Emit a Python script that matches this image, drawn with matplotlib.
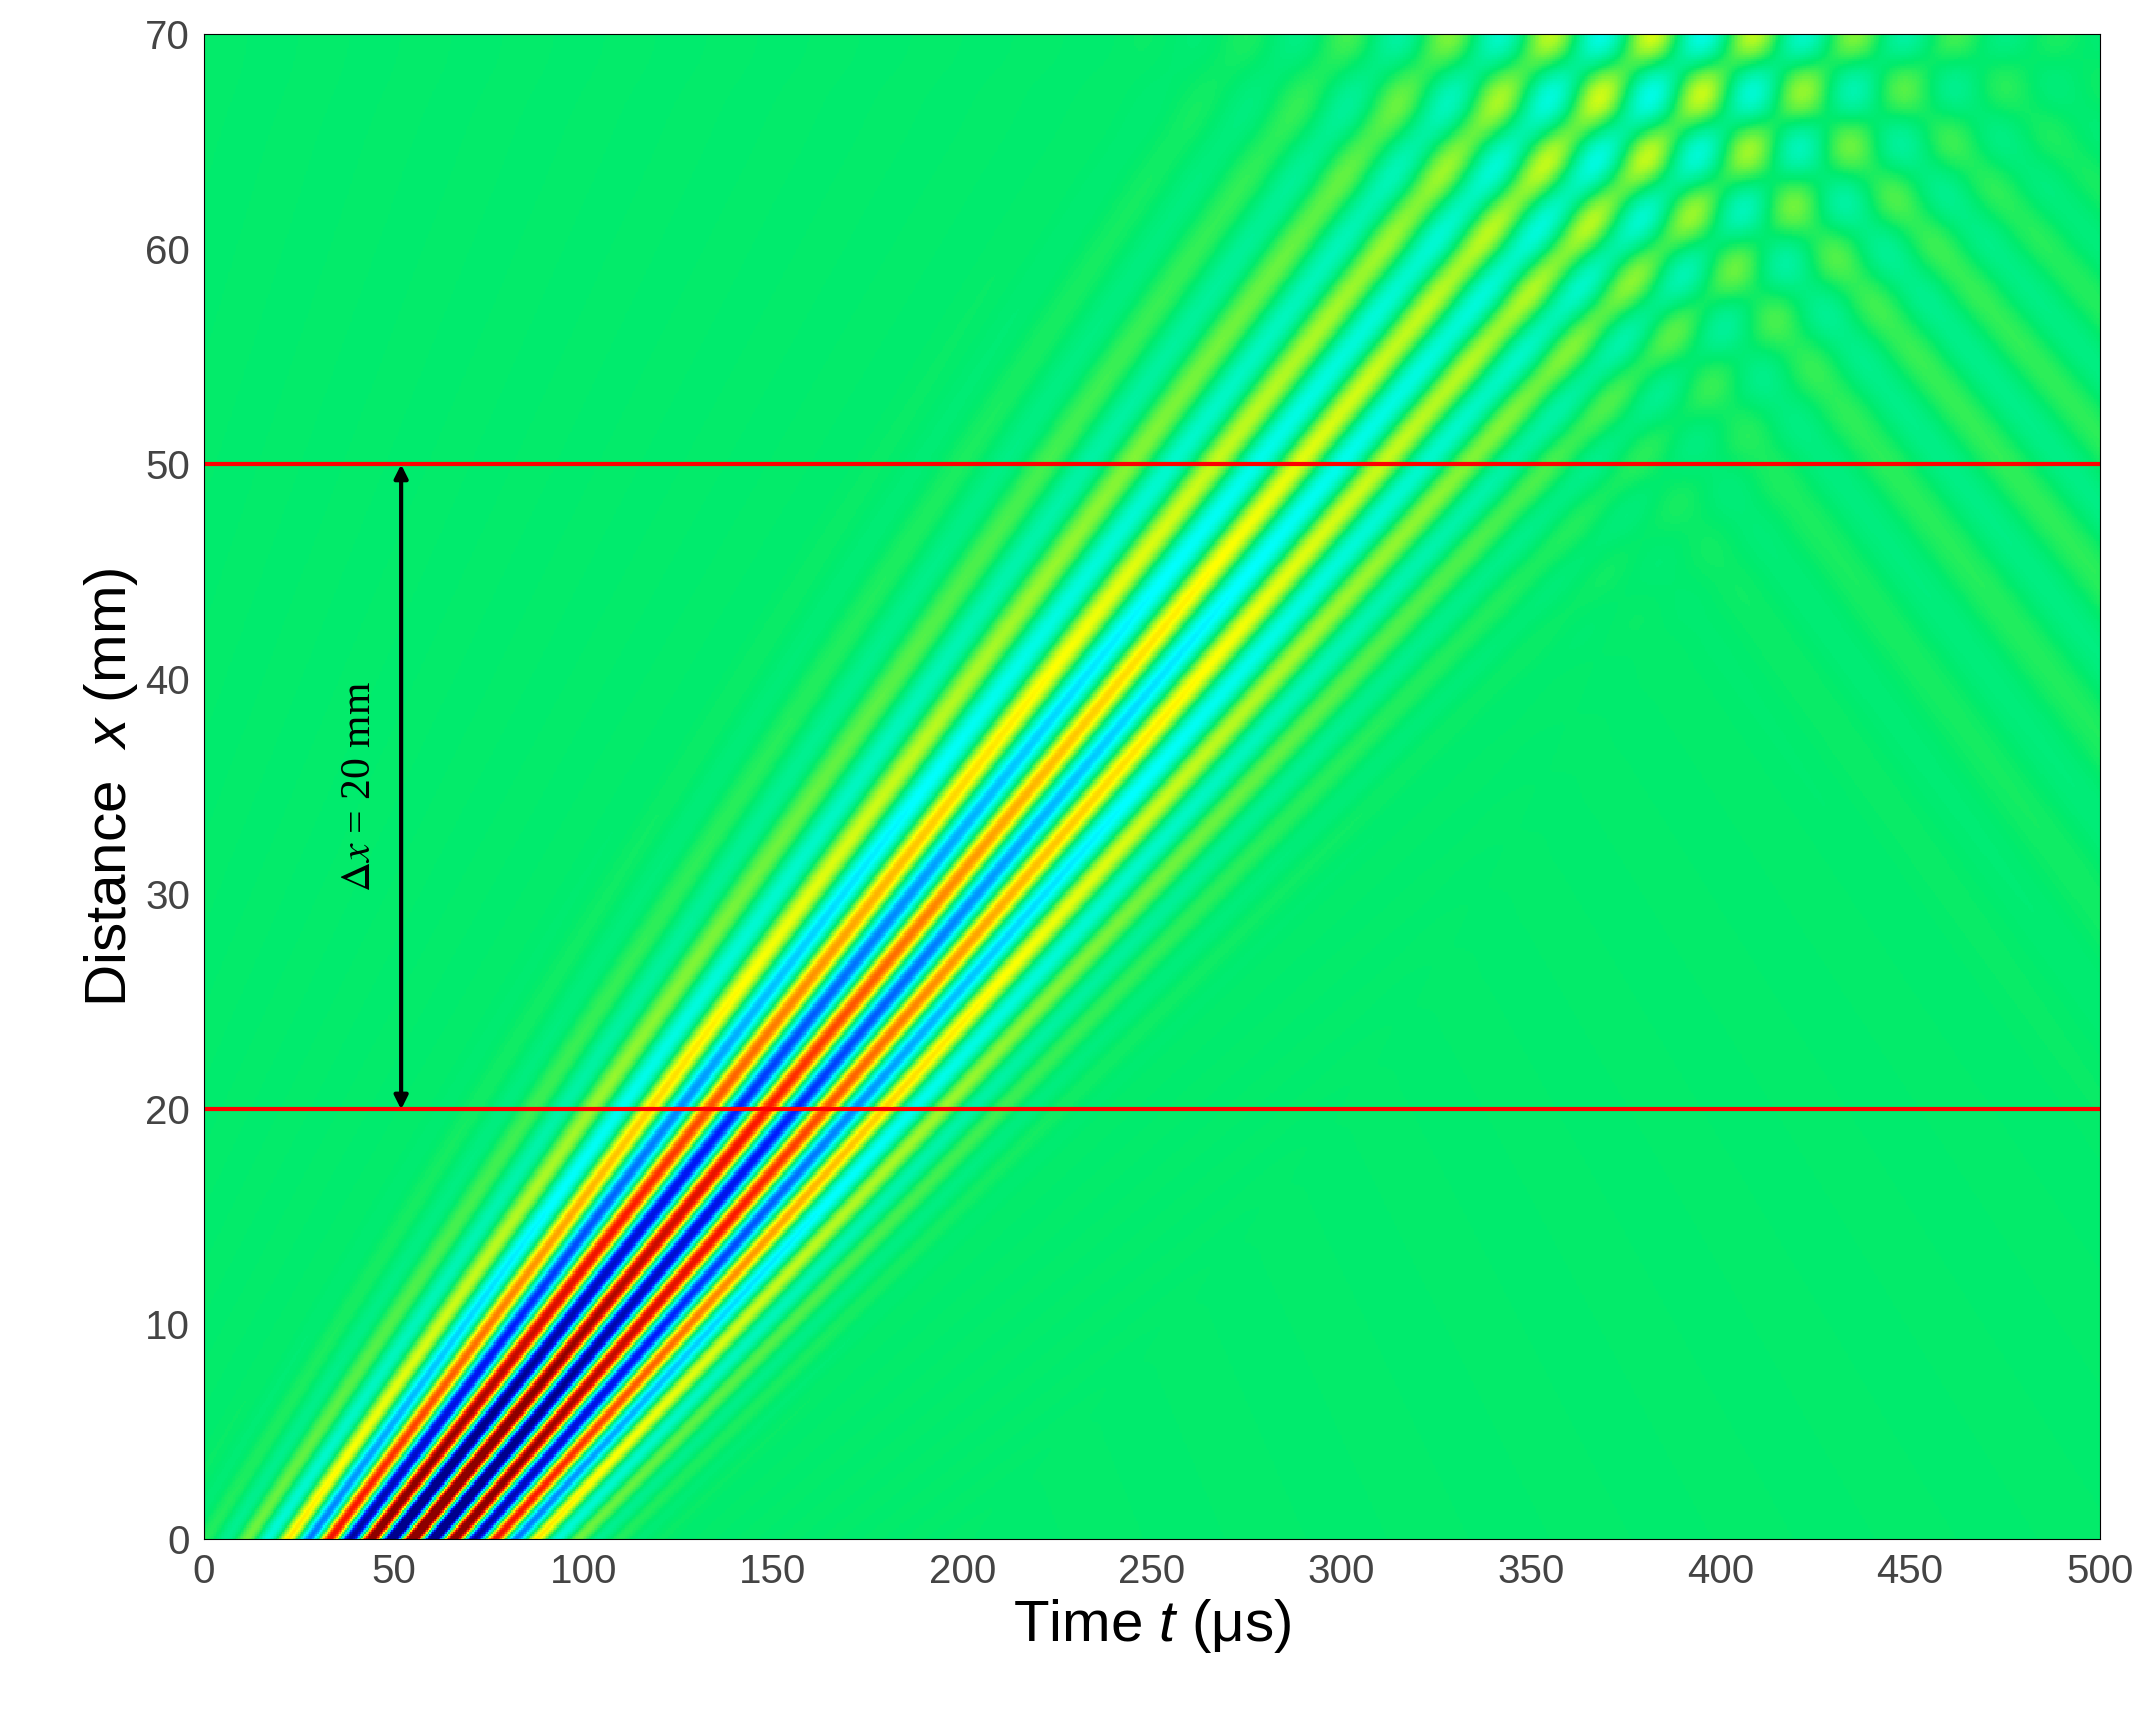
import numpy as np
import matplotlib
matplotlib.use('Agg')
import matplotlib.pyplot as plt
from matplotlib.colors import LinearSegmentedColormap

plt.rcParams['font.family'] = ['Liberation Sans', 'DejaVu Sans']
plt.rcParams['mathtext.fontset'] = 'custom'
plt.rcParams['mathtext.it'] = 'Liberation Sans:italic'
plt.rcParams['mathtext.rm'] = 'Liberation Sans'

# wave packet parameters
t_centre = 55.0      # us, packet centre at x = 0
slowness = 4.67      # us/mm, centre group slowness
fan = 0.0207         # change of slowness per us of launch time
period = 11.0        # us
env_width = 21.0     # us
decay = 45.0         # mm
x_end = 70.0         # mm, reflecting edge
refl = 0.6
line_x = [20, 50]
x_ticks = [0, 10, 20, 30, 40, 50, 60, 70]
t_ticks = [0, 50, 100, 150, 200, 250, 300, 350, 400, 450, 500]

t = np.linspace(0, 500, 1200)
x = np.linspace(0, 70, 700)
T, X = np.meshgrid(t, x)


def packet(T, X):
    t0 = (T - X * slowness + t_centre * fan * X) / (1 + fan * X)
    amp = 1.3 * np.exp(-X / decay) / np.sqrt(1 + fan * X)
    env = np.exp(-((t0 - t_centre) / env_width) ** 2 / 2)
    return amp * env * np.cos(2 * np.pi * (t0 - t_centre) / period)


u = packet(T, X) + refl * packet(T, 2 * x_end - X)

cmap = LinearSegmentedColormap.from_list('wave', [
    (0.0, (0.0, 0.0, 0.55)), (0.15, (0.0, 0.1, 1.0)), (0.33, (0.0, 1.0, 1.0)),
    (0.5, (0.0, 0.92, 0.42)), (0.67, (1.0, 1.0, 0.0)), (0.85, (1.0, 0.1, 0.0)),
    (1.0, (0.55, 0.0, 0.0))])

fig = plt.figure(figsize=(21.47, 17.22), dpi=100)
ax = fig.add_axes([0.095, 0.106, 0.883, 0.874])
ax.pcolormesh(t, x, u, cmap=cmap, vmin=-1, vmax=1, shading='auto')
for y in line_x:
    ax.axhline(y, color='red', linewidth=3)
ax.annotate('', xy=(52, 20), xytext=(52, 50),
            arrowprops=dict(arrowstyle='<|-|>', color='black', lw=3,
                            mutation_scale=20, shrinkA=0, shrinkB=0))
ax.text(41, 35, r'$\Delta x$ = 20 mm', rotation=90, ha='center', va='center',
        fontsize=30, family='Liberation Serif', math_fontfamily='stix')
ax.set_xlim(0, 500)
ax.set_ylim(0, 70)
ax.set_xticks(t_ticks)
ax.set_yticks(x_ticks)
ax.tick_params(labelsize=29, colors='#444444', length=0, pad=10)
ax.set_xlabel(r'Time $t$ ($\mathrm{\mu}$s)', fontsize=42)
ax.set_ylabel(r'Distance  $x$ (mm)', fontsize=42)
fig.savefig('out.png')
